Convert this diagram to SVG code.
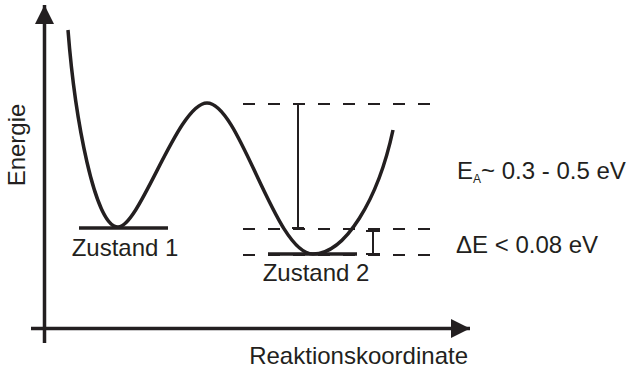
<svg xmlns="http://www.w3.org/2000/svg" width="642" height="371" viewBox="0 0 642 371">
<style>
text{font-family:"Liberation Sans",Arial,sans-serif;font-size:24px;fill:#231f20}
.ax{stroke:#231f20;stroke-width:3.5;fill:none}
.dash{stroke:#231f20;stroke-width:2;stroke-dasharray:12 13;fill:none}
.bar{stroke:#231f20;stroke-width:2;fill:none}
.lvl{stroke:#231f20;stroke-width:3.5;fill:none}
</style>
<defs>
<marker id="ah" viewBox="0 0 10 10" refX="10" refY="5" markerWidth="5.5" markerHeight="5.5" orient="auto" markerUnits="strokeWidth"><path d="M0,0 L10,5 L0,10 Z" fill="#231f20"/></marker>
</defs>
<g id="axes">
<line class="ax" x1="44.5" y1="343" x2="44.5" y2="5" marker-end="url(#ah)"/>
<line class="ax" x1="31" y1="328.5" x2="470" y2="328.5" marker-end="url(#ah)"/>
<text x="25" y="145" text-anchor="middle" transform="rotate(-90 25 145)">Energie</text>
<text x="468" y="364" text-anchor="end">Reaktionskoordinate</text>
</g>
<g id="curve">
<path class="ax" d="M68,30 C75,120 95,227 118,227 C140,227 178,103 207,103 C240,103 275,254 313,254 C345,254 378,200 393,130"/>
</g>
<g id="zustand1">
<line class="lvl" x1="79" y1="228" x2="168" y2="228"/>
<text x="125" y="256" text-anchor="middle">Zustand 1</text>
</g>
<g id="zustand2">
<line class="lvl" x1="268" y1="254" x2="357" y2="254"/>
<text x="316" y="281" text-anchor="middle">Zustand 2</text>
</g>
<g id="connectors">
<line class="dash" x1="243" y1="104" x2="430" y2="104"/>
<line class="dash" x1="243" y1="229" x2="430" y2="229"/>
<line class="dash" x1="243" y1="255" x2="430" y2="255"/>
<path class="bar" d="M298,104 V228 M292,228 H304"/>
<path class="bar" d="M373,231 V254 M366,231 H380 M366,254 H380"/>
</g>
<g id="labels">
<text x="457" y="179">E<tspan font-size="12" dy="4">A</tspan><tspan dy="-4">~ 0.3 - 0.5 eV</tspan></text>
<text x="456" y="253">ΔE &lt; 0.08 eV</text>
</g>
</svg>
